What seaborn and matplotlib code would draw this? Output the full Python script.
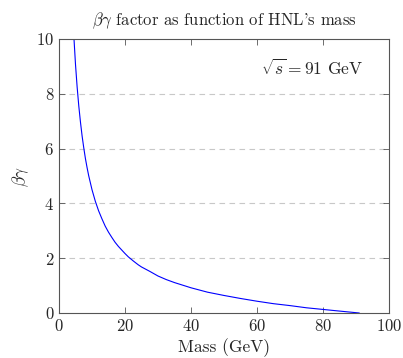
import matplotlib
matplotlib.use("Agg")
import matplotlib.pyplot as plt
import pandas as pd
import seaborn as sns

# values
mass = [4.5, 5, 5.5, 6, 6.5, 7, 7.5, 8, 8.5, 9, 10, 11, 12, 13, 14, 15, 16,
        17, 18, 19, 20, 21, 22.5, 24, 25, 27.5, 30, 32.5, 35, 40, 45, 50,
        55, 60, 65, 70, 75, 80, 85, 91]
betagamma = [10.09, 9.07, 8.24, 7.55, 6.97, 6.46, 6.03, 5.64, 5.31, 5.01,
             4.50, 4.08, 3.73, 3.44, 3.17, 2.95, 2.76, 2.58, 2.43, 2.30,
             2.17, 2.05, 1.90, 1.76, 1.68, 1.52, 1.35, 1.22, 1.11, 0.92,
             0.76, 0.64, 0.53, 0.43, 0.34, 0.27, 0.19, 0.13, 0.07, 0.0]
x_ticks = [0, 20, 40, 60, 80, 100]
y_ticks = [0, 2, 4, 6, 8, 10]

df = pd.DataFrame({"mass": mass, "bg": betagamma})

sns.set_style("ticks")
plt.rcParams["font.family"] = "cmr10"
plt.rcParams["mathtext.fontset"] = "cm"
plt.rcParams["axes.formatter.use_mathtext"] = True
plt.rcParams["axes.unicode_minus"] = False

fig = plt.figure(figsize=(4.03, 3.58), dpi=100)
ax = fig.add_axes([0.1464, 0.1257, 0.8189, 0.7654])

sns.lineplot(data=df, x="mass", y="bg", ax=ax, color="#0000ff", linewidth=0.8)

ax.set_xlim(0, 100)
ax.set_ylim(0, 10)
ax.set_xticks(x_ticks)
ax.set_yticks(y_ticks)
for y in y_ticks[1:-1]:
    ax.axhline(y, color="#c8c8c8", linestyle=(0, (5, 4)), linewidth=0.8, zorder=0)

ax.tick_params(direction="in", top=True, right=True, length=4, width=0.6,
               color="#555555", labelsize=12)
for s in ax.spines.values():
    s.set_color("#555555")
    s.set_linewidth(0.8)

ax.set_xlabel("Mass (GeV)", fontsize=12.5, labelpad=3)
ax.set_ylabel(r"$\beta\gamma$", fontsize=12.5, labelpad=4)
ax.set_title(r"$\beta\gamma$ factor as function of HNL's mass", fontsize=12, pad=10)
ax.text(0.922, 0.894, r"$\sqrt{s} = 91$ GeV", transform=ax.transAxes,
        ha="right", va="center", fontsize=12.5)

fig.savefig("out.png", dpi=100)
